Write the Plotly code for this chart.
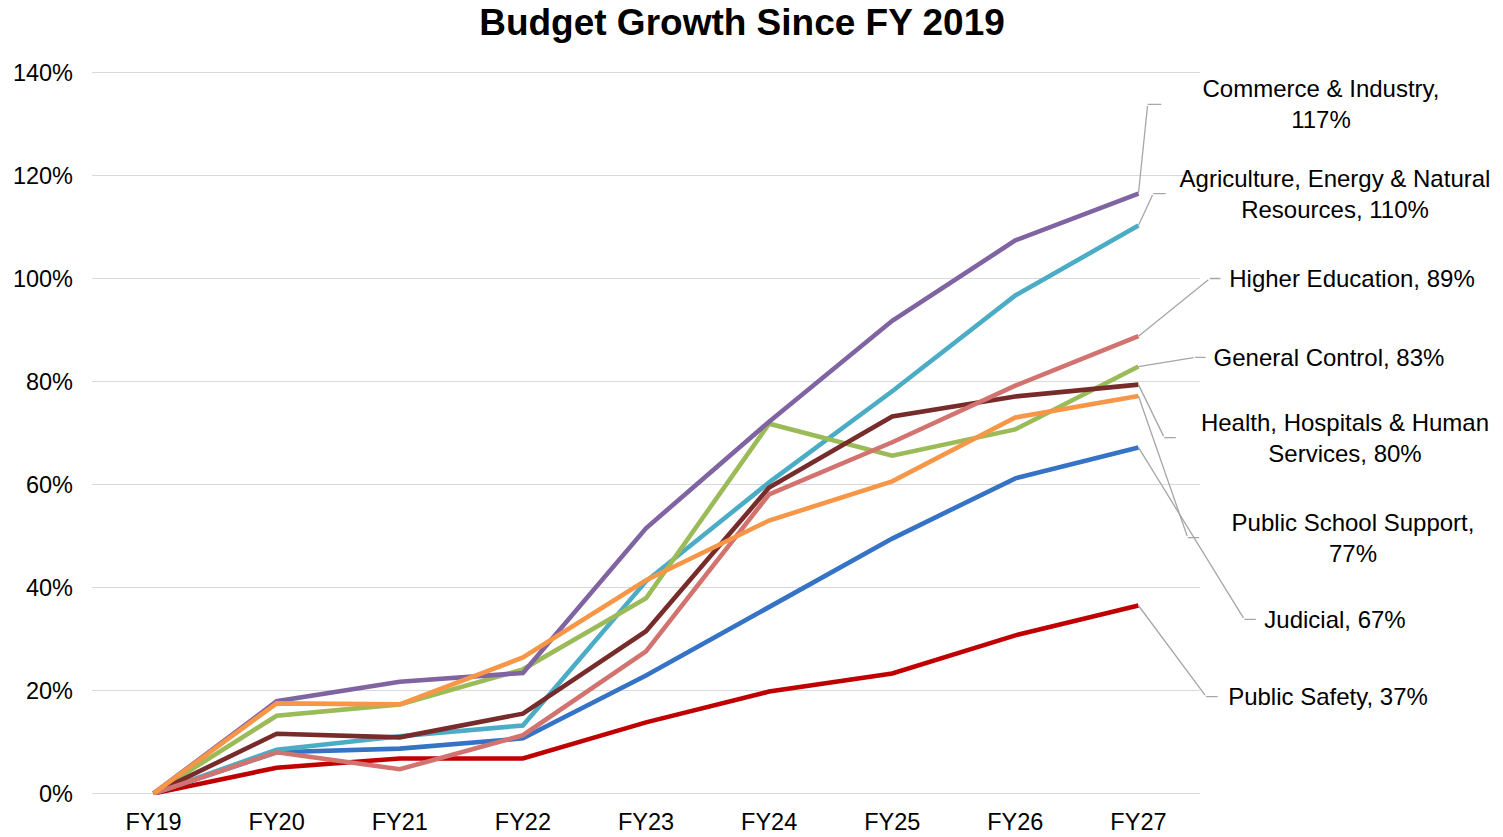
import plotly.graph_objects as go

years = ["FY19", "FY20", "FY21", "FY22", "FY23", "FY24", "FY25", "FY26", "FY27"]

# percent growth since FY 2019
commerce = [0, 17.9, 21.7, 23.4, 51.5, 72.2, 91.8, 107.4, 116.5]
agriculture = [0, 8.5, 11.1, 13.2, 41.2, 60.4, 78.1, 96.7, 110.3]
higher_ed = [0, 8.0, 4.7, 11.3, 27.6, 58.1, 68.2, 79.2, 88.8]
general_control = [0, 15.1, 17.3, 24.1, 37.9, 71.8, 65.6, 70.7, 82.9]
health = [0, 11.6, 10.9, 15.5, 31.5, 59.4, 73.2, 77.1, 79.4]
public_school = [0, 17.5, 17.3, 26.4, 41.4, 53.0, 60.6, 73.0, 77.2]
judicial = [0, 8.0, 8.7, 10.7, 22.9, 36.1, 49.5, 61.2, 67.2]
public_safety = [0, 5.0, 6.8, 6.8, 13.8, 19.8, 23.3, 30.7, 36.5]

names = ["Public Safety", "Judicial", "Agriculture, Energy & Natural Resources",
         "General Control", "Commerce & Industry", "Health, Hospitals & Human Services",
         "Higher Education", "Public School Support"]
series = [public_safety, judicial, agriculture, general_control, commerce,
          health, higher_ed, public_school]
colors = ["#C00000", "#3473C6", "#4BACC6", "#9BBB59", "#8064A2",
          "#772B2A", "#D2736F", "#F79646"]

# label text (with line breaks) and leader geometry: elbow (x index, y %), offset px, box width
labels = {
    "Commerce & Industry": ("Commerce & Industry,<br>117%", 8.075, 133.8, 173, 318),
    "Agriculture, Energy & Natural Resources": ("Agriculture, Energy & Natural<br>Resources, 110%", 8.12, 116.5, 182, 338),
    "Higher Education": ("Higher Education, 89%", 8.58, 100.0, 142, 262),
    "General Control": ("General Control, 83%", 8.46, 84.7, 134, 246),
    "Health, Hospitals & Human Services": ("Health, Hospitals & Human<br>Services, 80%", 8.21, 69.1, 181, 338),
    "Public School Support": ("Public School Support,<br>77%", 8.40, 49.7, 165, 306),
    "Judicial": ("Judicial, 67%", 8.86, 33.8, 91, 158),
    "Public Safety": ("Public Safety, 37%", 8.55, 18.8, 122, 220),
}

font = "Liberation Sans, Arial, sans-serif"
leader = "#A6A6A6"
n = len(years)

fig = go.Figure()
annotations = []
for name, vals, col in zip(names, series, colors):
    fig.add_trace(go.Scatter(x=years, y=vals, mode="lines", name=name,
                             line=dict(color=col, width=4.6)))
    text, ex, ey, off, w = labels[name]
    # leader from the end point to the elbow
    annotations.append(dict(x=n - 1, y=vals[-1], xref="x", yref="y",
                            ax=ex, ay=ey, axref="x", ayref="y", text="",
                            showarrow=True, arrowhead=0, arrowwidth=1.3,
                            arrowcolor=leader))
    # label with a short horizontal stub (paper x so it is not hidden past the axis end)
    annotations.append(dict(x=(ex + 0.5) / n, y=ey, xref="paper", yref="y", text=text,
                            showarrow=True, ax=off, ay=0, arrowhead=0,
                            arrowwidth=1.3, arrowcolor=leader, width=w,
                            align="center", borderpad=0,
                            font=dict(family=font, size=24, color="black")))

fig.update_layout(
    width=1503, height=837,
    paper_bgcolor="white", plot_bgcolor="white",
    showlegend=False,
    margin=dict(l=92, r=303, t=71, b=42),
    title=dict(text="<b>Budget Growth Since FY 2019</b>", x=742 / 1503, xanchor="center",
               y=1 - 22 / 837, yanchor="middle", yref="container", automargin=False,
               font=dict(family=font, size=37, color="black")),
    annotations=annotations,
    font=dict(family=font, size=23.5, color="black"),
)
fig.update_xaxes(type="category", range=[-0.5, n - 0.5], showgrid=False, zeroline=False,
                 showline=False, ticks="", ticklabelstandoff=10, automargin=False,
                 tickfont=dict(family=font, size=23.5, color="black"))
# small padding so the 0% and 140% gridlines are kept
fig.update_yaxes(range=[-0.3, 140.3], dtick=20, ticksuffix="%", showgrid=True,
                 gridcolor="#D9D9D9", gridwidth=1.3, zeroline=False, showline=False,
                 ticks="", ticklabelstandoff=18, automargin=False,
                 tickfont=dict(family=font, size=23.5, color="black"))

fig.write_html("out.html", config={"displayModeBar": False},
               post_script="document.body.style.margin = '0';")
